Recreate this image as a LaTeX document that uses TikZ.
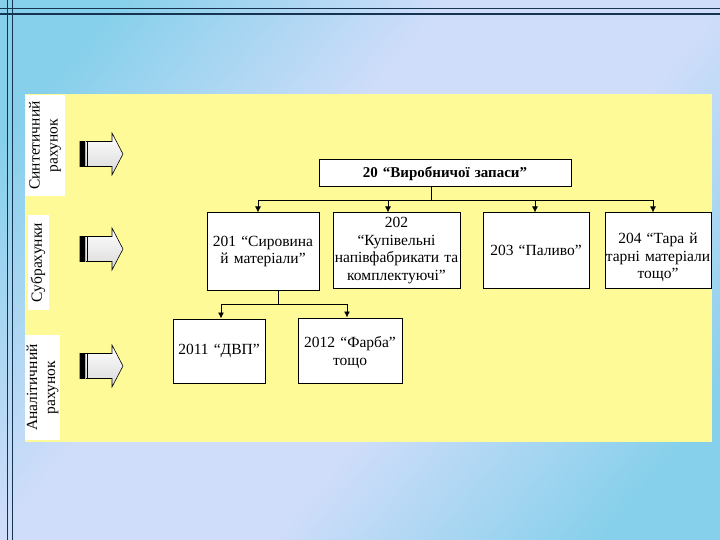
\documentclass[tikz,border=0pt]{standalone}
\usepackage{fontspec}
\setmainfont{Liberation Serif}
\usetikzlibrary{arrows.meta}
\definecolor{panel}{RGB}{255,250,152}
\definecolor{bgc}{RGB}{135,208,235}
\definecolor{bgl}{RGB}{208,221,250}
\definecolor{navy}{RGB}{22,52,82}
\pgfdeclarehorizontalshading{bgsh}{100bp}{color(0bp)=(bgc); color(22bp)=(bgc); color(42bp)=(bgl); color(58bp)=(bgl); color(78bp)=(bgc); color(100bp)=(bgc)}
\newcommand\wideline[1]{\makebox[\linewidth]{#1}}
\tikzset{
  frameline/.style={navy, line width=1.8pt},
  acct/.style={draw=black, line width=1pt, fill=white, inner sep=0pt, align=center,
    font=\fontsize{15.5}{17.5}\selectfont},
  acctext/.style={inner sep=0pt, align=center, font=\fontsize{15.5}{17.5}\selectfont},
  side/.style={fill=white, rotate=90, inner sep=0pt, align=center,
    font=\fontsize{15.5}{18}\selectfont},
  conn/.style={black, line width=0.9pt},
  arr/.style={conn, -{Latex[length=6pt,width=6pt]}},
  barrow/.pic={
    \path[top color=white, bottom color=gray!30, draw=black, line width=0.6pt]
      (0,-12.5) -- (32,-12.5) -- (32,-21) -- (43,0) -- (32,21) -- (32,12.5) -- (0,12.5) -- cycle;
    \fill[black] (0,-12.5) rectangle (4.5,12.5);
    \fill[gray!60] (4.5,-12.5) rectangle (6,12.5);
    \draw[black, line width=0.6pt] (7,-12.5) -- (7,12.5);
  }
}
\begin{document}
\begin{tikzpicture}[x=1pt,y=-1pt]
\useasboundingbox (0,0) rectangle (720,540);
% background
\path[shading=bgsh, shading angle=-40] (0,0) rectangle (720,540);
\draw[frameline] (7.5,0) -- (7.5,540);
\draw[frameline] (12.5,0) -- (12.5,540);
\draw[frameline] (0,8.5) -- (720,8.5);
\draw[frameline] (0,14) -- (720,14);
% panel
\fill[panel] (25,94) rectangle (712,442);
% side labels
\node[side, minimum width=101pt, minimum height=40pt] (syn) at (45,145.5) {Синтетичний\\рахунок};
\node[side, minimum width=95pt, minimum height=21pt] (sub) at (38,262.5) {Субрахунки};
\node[side, minimum width=105pt, minimum height=35pt] (ana) at (42.5,387.5) {Аналітичний\\рахунок};
% block arrows
\pic at (80,154) {barrow};
\pic at (80,249) {barrow};
\pic at (80,366) {barrow};
% account boxes
\node[acct, minimum width=252pt, minimum height=27pt, text width=250pt,
      font=\fontsize{15}{17}\selectfont\bfseries] (a20) at (445,173.5) {20 “Виробничої запаси”};
\node[acct, minimum width=112pt, minimum height=77pt, text width=110pt] (a201) at (263,251.5) {201 “Сировина\\й матеріали”};
\node[acct, minimum width=127pt, minimum height=75pt, text width=125pt] (a202) at (396.5,250.5) {202\\“Купівельні\\\wideline{напівфабрикати та}\\комплектуючі”};
\node[acct, minimum width=106pt, minimum height=75pt, text width=104pt] (a203) at (536,250.5) {203 “Паливо”};
\node[acct, minimum width=106pt, minimum height=75pt] (a204) at (658,250.5) {};
\node[acctext, text width=104pt] (t204) at ([yshift=-7pt]a204.center) {204 “Тара й\\\wideline{тарні матеріали}\\тощо”};
\node[acct, minimum width=92pt, minimum height=64pt, text width=90pt] (a2011) at (219,351) {2011 “ДВП”};
\node[acct, minimum width=104pt, minimum height=65pt] (a2012) at (350,350.5) {};
\node[acctext, text width=102pt] (t2012) at ([yshift=-2pt]a2012.center) {2012 “Фарба”\\тощо};
% connectors
\coordinate (bus) at (431,200);
\coordinate (j201) at (258,200);
\coordinate (j202) at (388,200);
\coordinate (j203) at (535,200);
\coordinate (j204) at (653,200);
\draw[conn] (a20.south -| bus) -- (bus);
\draw[conn] (j201) -- (j204);
\draw[arr] (j201) -- (j201 |- a201.north);
\draw[arr] (j202) -- (j202 |- a202.north);
\draw[arr] (j203) -- (j203 |- a203.north);
\draw[arr] (j204) -- (j204 |- a204.north);
\coordinate (sbus) at (278,304);
\coordinate (j2011) at (221,304);
\coordinate (j2012) at (347,304);
\draw[conn] (a201.south -| sbus) -- (sbus);
\draw[conn] (j2011) -- (j2012);
\draw[arr] (j2011) -- (j2011 |- a2011.north);
\draw[arr] (j2012) -- (j2012 |- a2012.north);
\end{tikzpicture}
\end{document}
